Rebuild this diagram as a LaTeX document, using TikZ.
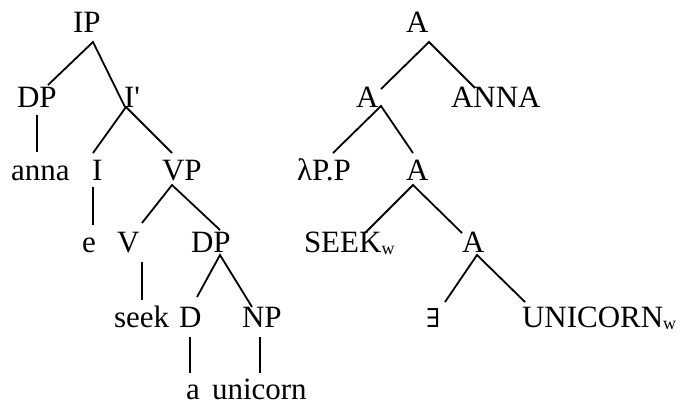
\documentclass[tikz,border=0pt]{standalone}
\usepackage{fontspec}
\setmainfont{Liberation Serif}[Ligatures=TeXOff]
\newfontfamily\symfont{DejaVu Serif}
\begin{document}
\begin{tikzpicture}[x=1pt,y=-1pt,
  lab/.style={anchor=base west,inner sep=0pt,outer sep=0pt,font=\fontsize{31}{36}\selectfont},
  br/.style={line width=1.8pt}]
\useasboundingbox (0,0) rectangle (685,404);
\newcommand{\subw}{\raisebox{-2pt}{\fontsize{18}{20}\selectfont w}}
% left tree
\node[lab] (IP) at (73,33) {IP};
\node[lab] (DPa) at (17,107) {DP};
\node[lab] (Ib) at (124,107) {I'};
\node[lab] (anna) at (11,180) {anna};
\node[lab] (I) at (92,180) {I};
\node[lab] (VP) at (162,180) {VP};
\node[lab] (e) at (82,252) {e};
\node[lab] (V) at (117,252) {V};
\node[lab] (DPb) at (191,252) {DP};
\node[lab] (seek) at (114,327) {seek};
\node[lab] (D) at (179,327) {D};
\node[lab] (NP) at (242,327) {NP};
\node[lab] (a) at (186,399) {a};
\node[lab] (unicorn) at (212,399) {unicorn};
% right tree
\node[lab] (A1) at (406,33) {A};
\node[lab] (A2) at (356,107) {A};
\node[lab] (ANNA) at (451,107) {ANNA};
\node[lab] (lam) at (297,180) {λP.P};
\node[lab] (A3) at (406,180) {A};
\node[lab] (SEEK) at (304,252) {SEEK\subw};
\node[lab] (A4) at (462,252) {A};
\node[lab,font=\symfont\fontsize{26}{28}\selectfont] (ex) at (426,327) {∃};
\node[lab] (UNI) at (522,327) {UNICORN\subw};
% connector end points
\coordinate (IP-b) at (93,42);
\coordinate (DPa-t) at (48,85);
\coordinate (Ib-t) at (125,107);
\coordinate (DPa-b) at (37,115);
\coordinate (anna-t) at (37,152);
\coordinate (Ib-b) at (126,107);
\coordinate (I-t) at (93,153);
\coordinate (VP-t) at (172,153);
\coordinate (I-b) at (93,187);
\coordinate (e-t) at (93,225);
\coordinate (VP-b) at (172,185);
\coordinate (V-t) at (142,223);
\coordinate (DPb-t) at (220,230);
\coordinate (V-b) at (142,262);
\coordinate (seek-t) at (142,300);
\coordinate (DPb-b) at (220,255);
\coordinate (D-t) at (197,297);
\coordinate (NP-t) at (252,307);
\coordinate (D-b) at (190,337);
\coordinate (a-t) at (190,373);
\coordinate (NP-b) at (260,337);
\coordinate (unicorn-t) at (260,373);
\coordinate (A1-b) at (429,42);
\coordinate (A2-t) at (381,89);
\coordinate (ANNA-t) at (475,88);
\coordinate (A2-b) at (381,106);
\coordinate (lam-t) at (333,153);
\coordinate (A3-t) at (413,153);
\coordinate (A3-b) at (413,185);
\coordinate (SEEK-t) at (365,233);
\coordinate (A4-t) at (462,233);
\coordinate (A4-b) at (477,255);
\coordinate (ex-t) at (445,302);
\coordinate (UNI-t) at (525,302);
% connectors
\draw[br] (DPa-t) -- (IP-b) -- (Ib-t);
\draw[br] (DPa-b) -- (anna-t);
\draw[br] (I-t) -- (Ib-b) -- (VP-t);
\draw[br] (I-b) -- (e-t);
\draw[br] (V-t) -- (VP-b) -- (DPb-t);
\draw[br] (V-b) -- (seek-t);
\draw[br] (D-t) -- (DPb-b) -- (NP-t);
\draw[br] (D-b) -- (a-t);
\draw[br] (NP-b) -- (unicorn-t);
\draw[br] (A2-t) -- (A1-b) -- (ANNA-t);
\draw[br] (lam-t) -- (A2-b) -- (A3-t);
\draw[br] (SEEK-t) -- (A3-b) -- (A4-t);
\draw[br] (ex-t) -- (A4-b) -- (UNI-t);
\end{tikzpicture}
\end{document}
